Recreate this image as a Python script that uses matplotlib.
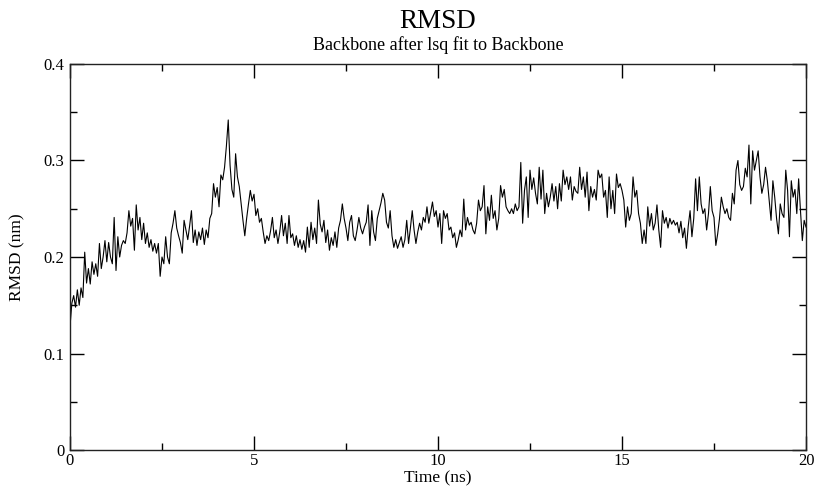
import numpy as np
import matplotlib
matplotlib.use("Agg")
import matplotlib.pyplot as plt
from matplotlib.ticker import MultipleLocator

title = "RMSD"
subtitle = "Backbone after lsq fit to Backbone"
xlabel = "Time (ns)"
ylabel = "RMSD (nm)"

t_start = 0.0
t_step = 0.05

rmsd = [
    0.128, 0.152, 0.160, 0.148, 0.166, 0.150, 0.168, 0.158, 0.205, 0.173, 0.188, 0.172, 0.195, 0.182, 0.193, 0.180, 0.214, 0.188, 0.200, 0.217,
    0.195, 0.215, 0.200, 0.193, 0.241, 0.186, 0.221, 0.200, 0.212, 0.217, 0.214, 0.225, 0.248, 0.232, 0.240, 0.207, 0.254, 0.228, 0.241, 0.218,
    0.235, 0.214, 0.225, 0.210, 0.218, 0.206, 0.214, 0.204, 0.214, 0.180, 0.200, 0.193, 0.221, 0.200, 0.193, 0.225, 0.235, 0.248, 0.230, 0.222,
    0.215, 0.204, 0.238, 0.228, 0.218, 0.232, 0.248, 0.215, 0.228, 0.212, 0.226, 0.218, 0.230, 0.213, 0.228, 0.220, 0.240, 0.245, 0.276, 0.262,
    0.272, 0.252, 0.285, 0.280, 0.293, 0.315, 0.342, 0.295, 0.270, 0.262, 0.307, 0.283, 0.273, 0.255, 0.238, 0.222, 0.240, 0.255, 0.269, 0.258,
    0.265, 0.243, 0.250, 0.236, 0.240, 0.226, 0.214, 0.222, 0.217, 0.227, 0.241, 0.220, 0.228, 0.214, 0.226, 0.243, 0.222, 0.235, 0.214, 0.243,
    0.220, 0.224, 0.212, 0.222, 0.210, 0.218, 0.208, 0.217, 0.205, 0.231, 0.210, 0.236, 0.218, 0.230, 0.214, 0.259, 0.234, 0.226, 0.238, 0.215,
    0.228, 0.207, 0.220, 0.212, 0.226, 0.210, 0.230, 0.238, 0.255, 0.240, 0.230, 0.217, 0.236, 0.243, 0.222, 0.217, 0.228, 0.241, 0.230, 0.224,
    0.231, 0.236, 0.254, 0.212, 0.248, 0.226, 0.217, 0.240, 0.248, 0.256, 0.266, 0.259, 0.236, 0.230, 0.248, 0.222, 0.210, 0.218, 0.209, 0.215,
    0.221, 0.210, 0.218, 0.238, 0.214, 0.230, 0.248, 0.228, 0.214, 0.226, 0.235, 0.228, 0.241, 0.236, 0.252, 0.235, 0.246, 0.257, 0.242, 0.248,
    0.231, 0.245, 0.214, 0.248, 0.240, 0.245, 0.228, 0.231, 0.220, 0.225, 0.210, 0.218, 0.228, 0.221, 0.260, 0.228, 0.241, 0.233, 0.236, 0.228,
    0.224, 0.235, 0.259, 0.248, 0.252, 0.274, 0.224, 0.252, 0.238, 0.264, 0.240, 0.248, 0.228, 0.240, 0.274, 0.262, 0.270, 0.252, 0.248, 0.245,
    0.250, 0.245, 0.255, 0.248, 0.252, 0.298, 0.235, 0.269, 0.283, 0.241, 0.290, 0.270, 0.282, 0.266, 0.255, 0.293, 0.260, 0.290, 0.245, 0.266,
    0.252, 0.262, 0.276, 0.258, 0.273, 0.250, 0.276, 0.258, 0.290, 0.275, 0.283, 0.270, 0.283, 0.259, 0.273, 0.268, 0.266, 0.293, 0.270, 0.283,
    0.262, 0.288, 0.248, 0.273, 0.262, 0.270, 0.259, 0.290, 0.282, 0.286, 0.262, 0.269, 0.241, 0.283, 0.250, 0.269, 0.245, 0.286, 0.272, 0.276,
    0.269, 0.259, 0.231, 0.252, 0.238, 0.245, 0.283, 0.262, 0.269, 0.245, 0.235, 0.214, 0.228, 0.214, 0.252, 0.232, 0.245, 0.228, 0.235, 0.254,
    0.228, 0.210, 0.248, 0.235, 0.241, 0.230, 0.240, 0.234, 0.238, 0.233, 0.236, 0.225, 0.237, 0.220, 0.230, 0.209, 0.232, 0.248, 0.221, 0.240,
    0.281, 0.248, 0.283, 0.255, 0.245, 0.250, 0.228, 0.245, 0.273, 0.248, 0.241, 0.212, 0.224, 0.240, 0.262, 0.252, 0.245, 0.250, 0.241, 0.238,
    0.266, 0.255, 0.290, 0.300, 0.275, 0.269, 0.273, 0.292, 0.283, 0.316, 0.255, 0.310, 0.290, 0.300, 0.310, 0.283, 0.266, 0.275, 0.293, 0.279,
    0.259, 0.238, 0.279, 0.262, 0.240, 0.224, 0.255, 0.245, 0.241, 0.290, 0.269, 0.221, 0.279, 0.262, 0.270, 0.245, 0.281, 0.248, 0.217, 0.238,
    0.231,
]

time_ns = t_start + t_step * np.arange(len(rmsd))

plt.rcParams["font.family"] = ["Liberation Serif", "DejaVu Serif"]

W, H = 817, 486
fig = plt.figure(figsize=(W / 100, H / 100), dpi=100)
ax = fig.add_axes([70 / W, 1 - 450 / H, (806 - 70) / W, (450 - 64) / H])

ax.plot(time_ns, rmsd, color="black", linewidth=0.8)

ax.set_xlim(0, 20)
ax.set_ylim(0, 0.4)
ax.xaxis.set_major_locator(MultipleLocator(5))
ax.xaxis.set_minor_locator(MultipleLocator(2.5))
ax.yaxis.set_major_locator(MultipleLocator(0.1))
ax.yaxis.set_minor_locator(MultipleLocator(0.05))
ax.xaxis.set_major_formatter(plt.FuncFormatter(lambda v, p: f"{v:g}"))
ax.yaxis.set_major_formatter(plt.FuncFormatter(lambda v, p: f"{v:g}"))

ax.tick_params(which="both", direction="in", top=True, right=True, labelsize=12, colors="black", width=1.0)
ax.tick_params(which="major", length=10)
ax.tick_params(axis="x", which="major", pad=2)
ax.tick_params(axis="y", which="major", pad=4)
ax.tick_params(which="minor", length=5)
for s in ax.spines.values():
    s.set_linewidth(1.0)
    s.set_color("#222222")

fig.text(438 / W, 1 - 22 / H, title, ha="center", va="center", fontsize=19.5)
fig.text(438 / W, 1 - 45 / H, subtitle, ha="center", va="center", fontsize=13)
fig.text(438 / W, 1 - 482 / H, xlabel, ha="center", va="baseline", fontsize=12.5)
fig.text(17 / W, 1 - 257 / H, ylabel, ha="center", va="center", rotation=90, fontsize=12.5)

fig.savefig("out.png", dpi=100)
